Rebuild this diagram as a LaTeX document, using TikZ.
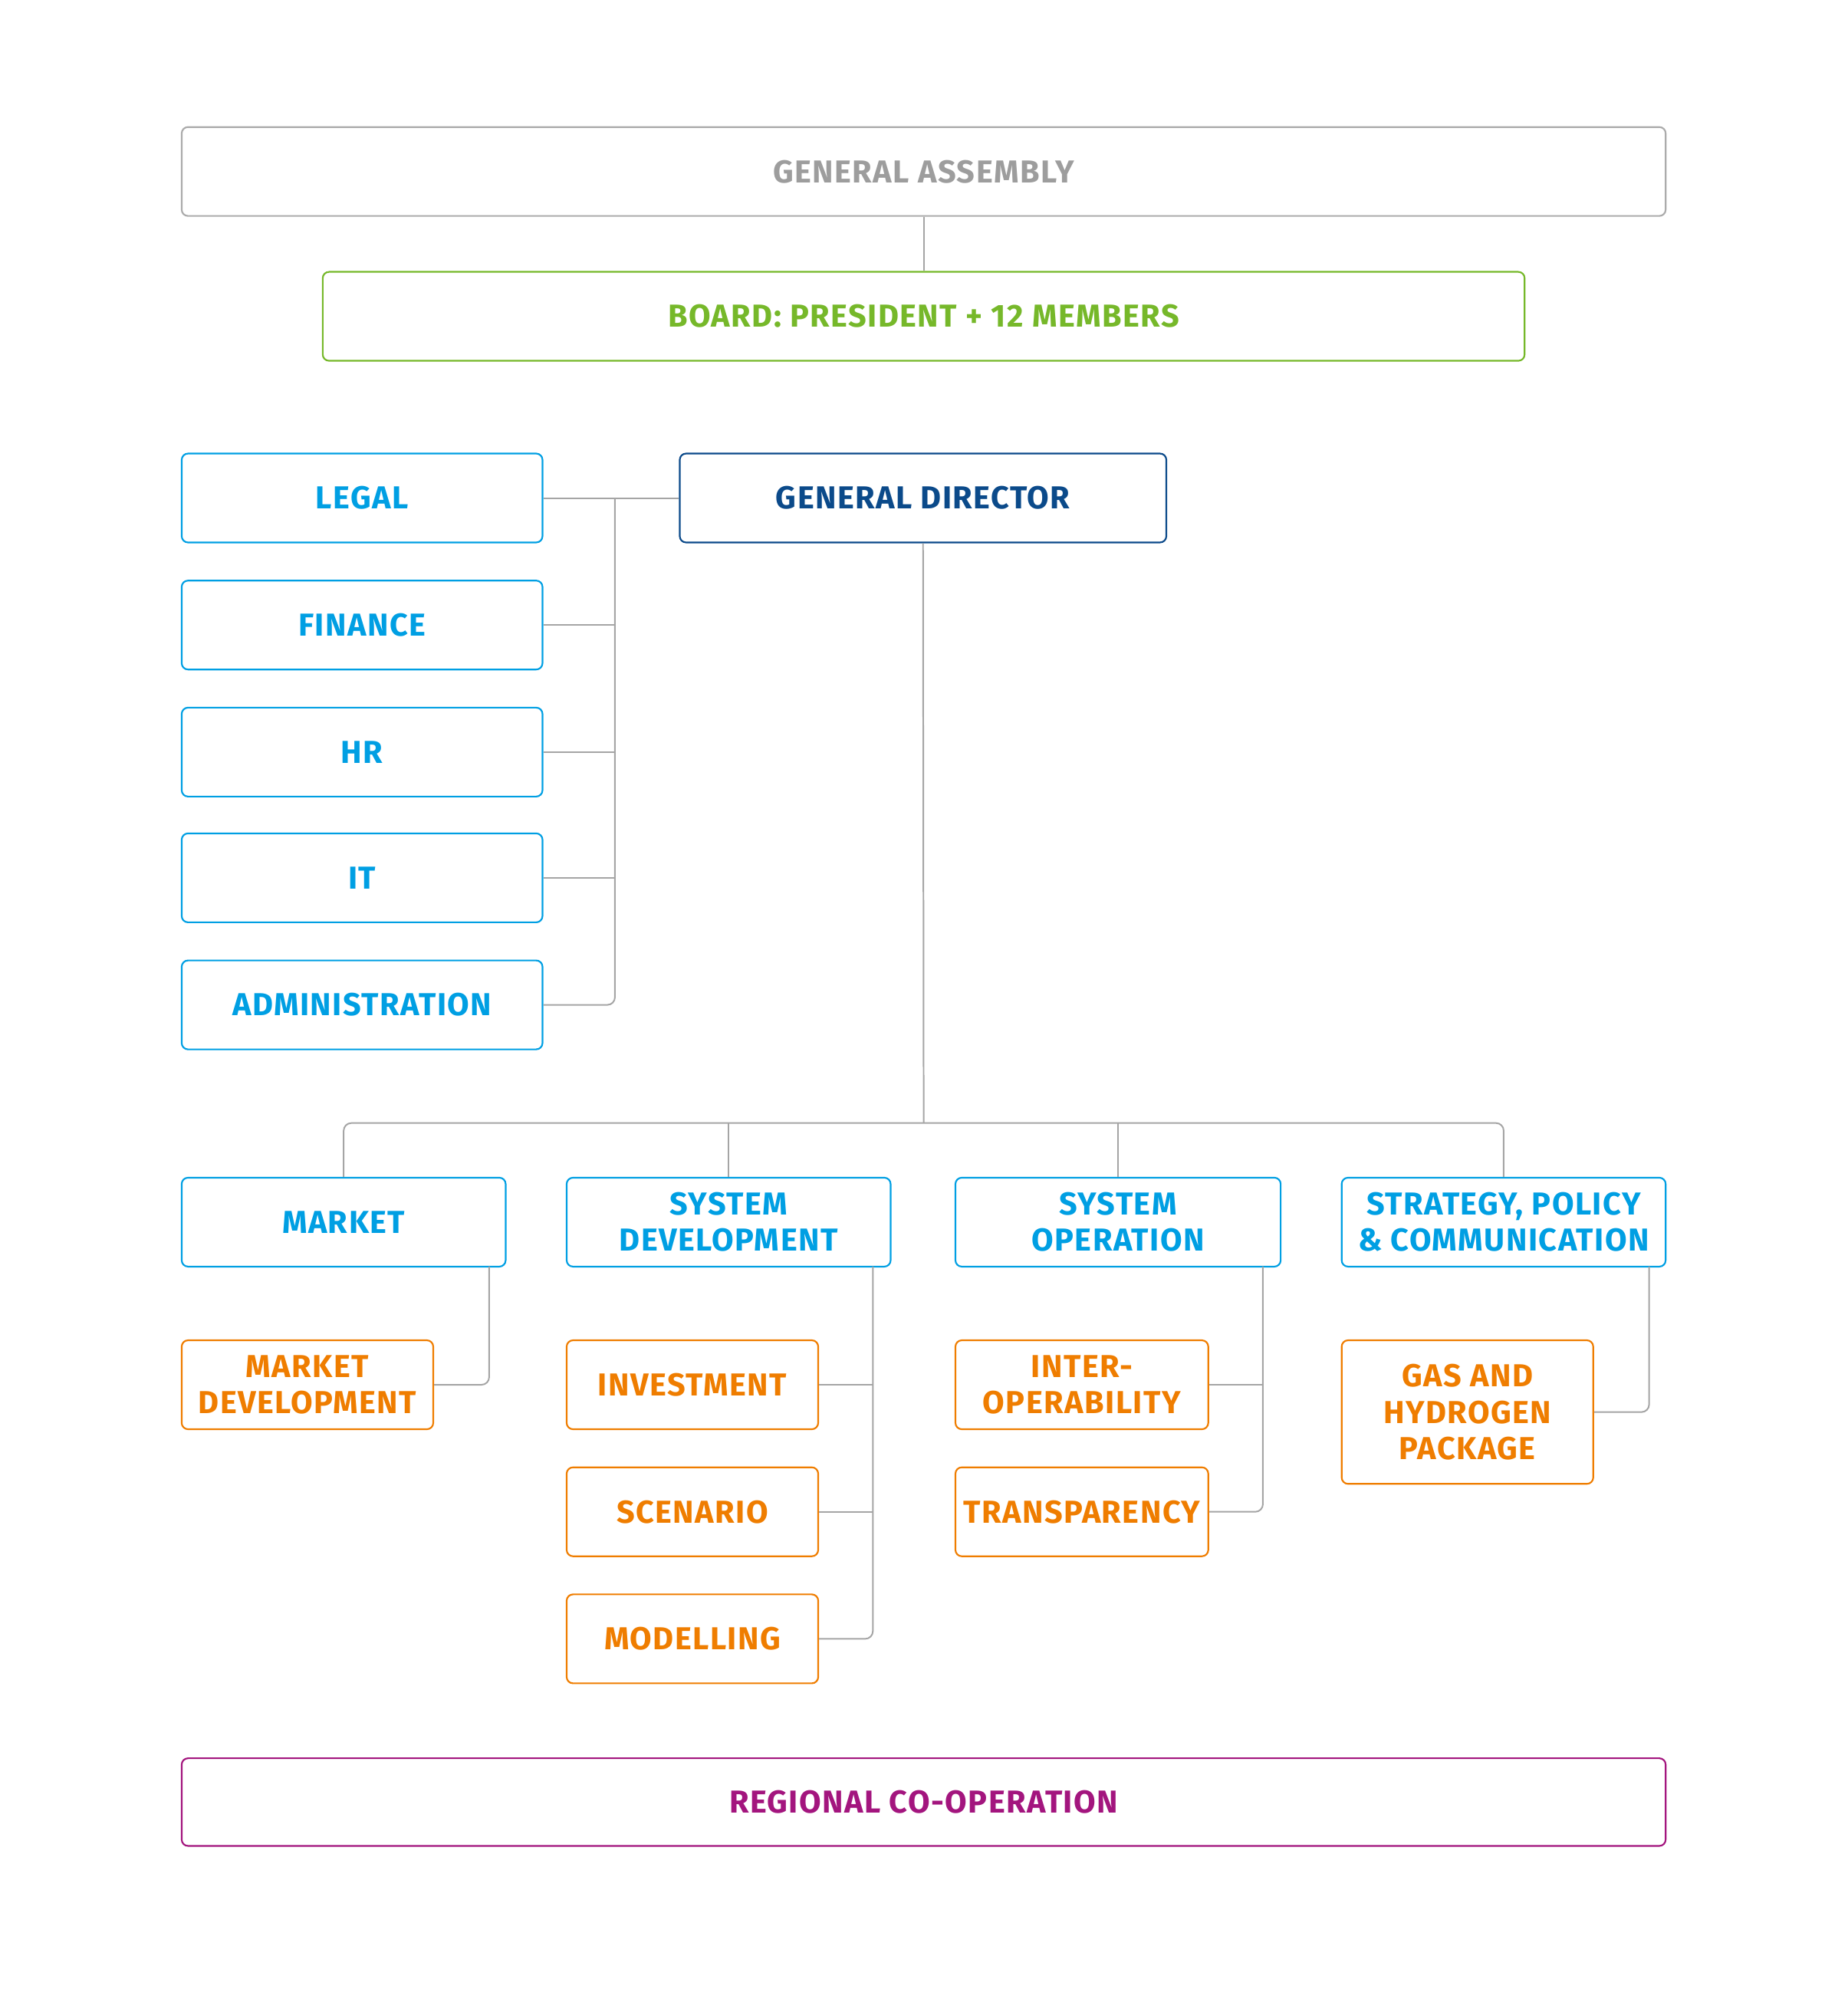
\documentclass[tikz,border=0pt]{standalone}
\usepackage{fontspec}
\setmainfont{Fira Sans}[LetterSpace=3.5]
\definecolor{gatext}{HTML}{9D9D9D}
\definecolor{gaborder}{HTML}{ABABAB}
\definecolor{boardgreen}{HTML}{76B82A}
\definecolor{gdblue}{HTML}{0B4A8A}
\definecolor{lblue}{HTML}{009FE3}
\definecolor{orng}{HTML}{EF7D00}
\definecolor{magen}{HTML}{A3157E}
\definecolor{conngray}{HTML}{A5A5A5}
\tikzset{
  box/.style={draw, rounded corners=5pt, line width=1.3pt, align=center, inner sep=0pt,
    font=\fontsize{25}{28.5}\selectfont\bfseries, minimum height=70pt},
  gabox/.style={box, draw=gaborder, text=gatext},
  boardbox/.style={box, draw=boardgreen, text=boardgreen},
  gdbox/.style={box, draw=gdblue, text=gdblue},
  bluebox/.style={box, draw=lblue, text=lblue},
  orangebox/.style={box, draw=orng, text=orng},
  regbox/.style={box, draw=magen, text=magen},
  conn/.style={draw=conngray, line width=1.2pt, rounded corners=6pt}
}
\begin{document}
\begin{tikzpicture}[x=1pt,y=-1pt]
\useasboundingbox (0,0) rectangle (1454,1568);
% top
\node[gabox, minimum width=1168pt] (ga) at (727,135) {GENERAL ASSEMBLY};
\node[boardbox, minimum width=946pt] (board) at (727,249) {BOARD: PRESIDENT + 12 MEMBERS};
% director and staff
\node[gdbox, minimum width=383pt] (gd) at (726.5,392) {GENERAL DIRECTOR};
\node[bluebox, minimum width=284pt] (legal) at (285,392) {LEGAL};
\node[bluebox, minimum width=284pt] (finance) at (285,492) {FINANCE};
\node[bluebox, minimum width=284pt] (hr) at (285,592) {HR};
\node[bluebox, minimum width=284pt] (it) at (285,691) {IT};
\node[bluebox, minimum width=284pt] (admin) at (285,791) {ADMINISTRATION};
% departments
\node[bluebox, minimum width=255pt] (market) at (270.5,962) {MARKET};
\node[bluebox, minimum width=255pt] (sd) at (573.5,962) {SYSTEM\\DEVELOPMENT};
\node[bluebox, minimum width=256pt] (so) at (880,962) {SYSTEM\\OPERATION};
\node[bluebox, minimum width=255pt] (spc) at (1183.5,962) {STRATEGY, POLICY\\\& COMMUNICATION};
% sub units
\node[orangebox, minimum width=198pt] (md) at (242,1090) {MARKET\\DEVELOPMENT};
\node[orangebox, minimum width=198pt] (inv) at (545,1090) {INVESTMENT};
\node[orangebox, minimum width=198pt] (scen) at (545,1190) {SCENARIO};
\node[orangebox, minimum width=198pt] (model) at (545,1290) {MODELLING};
\node[orangebox, minimum width=199pt] (interop) at (851.5,1090) {INTER-\\OPERABILITY};
\node[orangebox, minimum width=199pt] (transp) at (851.5,1190) {TRANSPARENCY};
\node[orangebox, minimum width=198pt, minimum height=113pt] (ghp) at (1155,1111.5) {GAS AND\\HYDROGEN\\PACKAGE};
% regional
\node[regbox, minimum width=1168pt, minimum height=69pt] (reg) at (727,1418.5) {REGIONAL CO-OPERATION};
% connectors
\draw[conn] (ga.south) -- (board.north);
\coordinate (lbus) at (484,392);
\draw[conn] (legal.east) -- (gd.west);
\draw[conn] (lbus) |- (admin.east);
\draw[conn] (finance.east) -- (finance.east -| lbus);
\draw[conn] (hr.east) -- (hr.east -| lbus);
\draw[conn] (it.east) -- (it.east -| lbus);
\coordinate (bus) at (727,884);
\draw[conn] (gd.south) -- (bus);
\draw[conn] (market.north) |- (spc.north |- bus) -- (spc.north);
\draw[conn] (sd.north) -- (sd.north |- bus);
\draw[conn] (so.north) -- (so.north |- bus);
\coordinate (mkc) at (385,997);
\draw[conn] (mkc) |- (md.east);
\coordinate (sdc) at (687,997);
\draw[conn] (sdc) |- (model.east);
\draw[conn] (inv.east) -- (inv.east -| sdc);
\draw[conn] (scen.east) -- (scen.east -| sdc);
\coordinate (soc) at (994,997);
\draw[conn] (soc) |- (transp.east);
\draw[conn] (interop.east) -- (interop.east -| soc);
\coordinate (spcc) at (1298,997);
\draw[conn] (spcc) |- (ghp.east);
\end{tikzpicture}
\end{document}
